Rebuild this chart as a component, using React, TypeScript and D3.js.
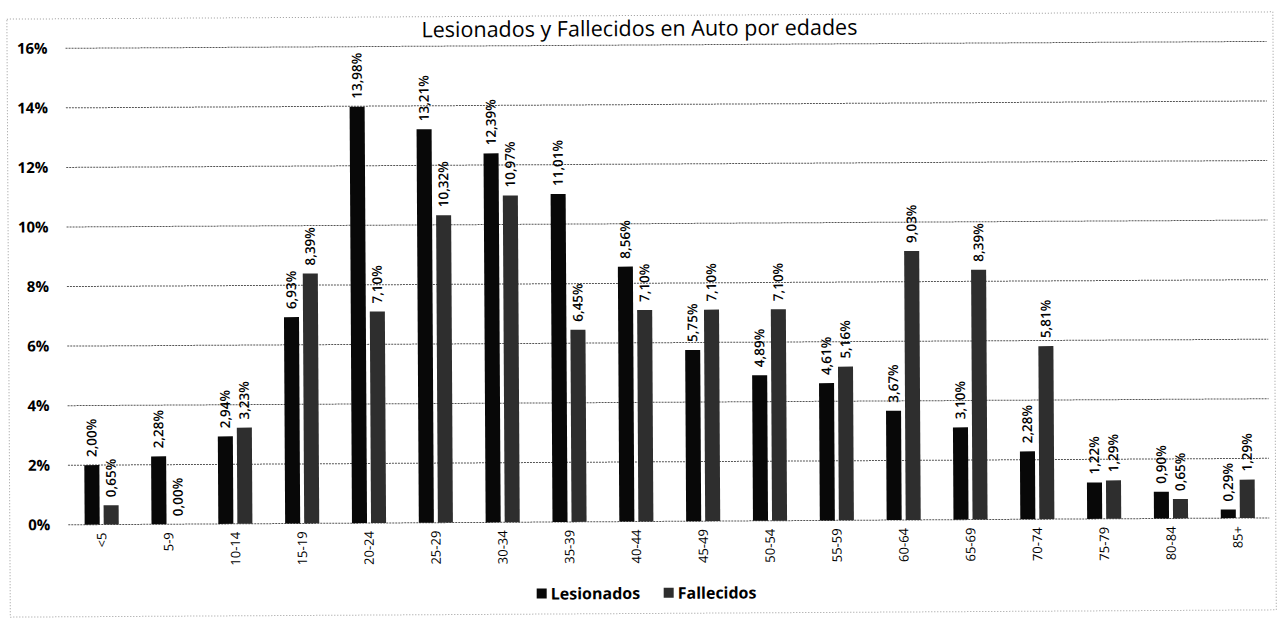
import React from "react";
import { scaleBand, scaleLinear } from "d3";

const categories = ["<5", "5-9", "10-14", "15-19", "20-24", "25-29", "30-34", "35-39", "40-44",
  "45-49", "50-54", "55-59", "60-64", "65-69", "70-74", "75-79", "80-84", "85+"];
const lesionados = [2.0, 2.28, 2.94, 6.93, 13.98, 13.21, 12.39, 11.01, 8.56,
  5.75, 4.89, 4.61, 3.67, 3.1, 2.28, 1.22, 0.9, 0.29];
const fallecidos = [0.65, 0.0, 3.23, 8.39, 7.1, 10.32, 10.97, 6.45, 7.1,
  7.1, 7.1, 5.16, 9.03, 8.39, 5.81, 1.29, 0.65, 1.29];
const seriesNames = ["Lesionados", "Fallecidos"];
const yTicks = [0, 2, 4, 6, 8, 10, 12, 14, 16];

const W = 1281;
const H = 618;
const FONT = "'Open Sans', Lato, sans-serif";
const colors = ["#080808", "#2e2e2e"];

const fmt = (v: number) => v.toFixed(2).replace(".", ",") + "%";

const App = () => {
  const x = scaleBand().domain(categories).range([67, 1270]).paddingInner(0.49).paddingOuter(0.245);
  const xs = scaleBand().domain(seriesNames).range([0, x.bandwidth()]).paddingInner(0.21);
  const y = scaleLinear().domain([0, 16]).range([521.5, 45]);
  const series = [lesionados, fallecidos];

  return (
    <div style={ {position: "fixed", left: 0, top: 0, width: W, height: H, background: "#fff"} }>
      <svg width={ W } height={ H } style={ {display: "block"} } fontFamily={ FONT }>
        <g transform="rotate(-0.33, 640, 300)">
          {/* outer frame */}
          <rect x={ 8.5 } y={ 15.5 } width={ 1266 } height={ 598 } fill="none"
                stroke="#999" strokeDasharray="1,2"/>

          {/* gridlines */}
          { yTicks.map(t => (
            <line key={ t } x1={ 67 } x2={ 1268 } y1={ y(t) } y2={ y(t) }
                  stroke="#555" strokeWidth={ 1 } strokeDasharray="2,1"/>
          )) }

          {/* y labels */}
          { yTicks.map(t => (
            <text key={ t } x={ 49 } y={ y(t) } dy="0.35em" textAnchor="end"
                  fontSize={ 15 } fontWeight="bold" fill="#000">{ t }%</text>
          )) }

          {/* title */}
          <text x={ 641 } y={ 36 } textAnchor="middle" fontSize={ 21.5 } fill="#000">
            Lesionados y Fallecidos en Auto por edades
          </text>

          {/* bars */}
          { series.map((vals, si) => (
            <g key={ si }>
              { vals.map((v, i) => {
                const bx = (x(categories[i]) || 0) + (xs(seriesNames[si]) || 0);
                return (
                  <rect key={ i } x={ bx } y={ y(v) } width={ xs.bandwidth() }
                        height={ y(0) - y(v) } fill={ colors[si] }/>
                );
              }) }
            </g>
          )) }

          {/* value labels */}
          { series.map((vals, si) => (
            <g key={ si }>
              { vals.map((v, i) => {
                const cx = (x(categories[i]) || 0) + (xs(seriesNames[si]) || 0) + xs.bandwidth() / 2;
                const ty = y(v) - 8;
                return (
                  <text key={ i } transform={ `translate(${ cx },${ ty }) rotate(-90)` } dy="0.35em"
                        textAnchor="start" fontSize={ 13.5 } fontWeight={ 600 } fill="#000">{ fmt(v) }</text>
                );
              }) }
            </g>
          )) }

          {/* x labels */}
          { categories.map(c => (
            <text key={ c } transform={ `translate(${ (x(c) || 0) + x.bandwidth() / 2 },${ y(0) + 8 }) rotate(-90)` }
                  dy="0.35em" textAnchor="end" fontSize={ 13 } fill="#000">{ c }</text>
          )) }

          {/* legend */}
          { seriesNames.map((s, i) => {
            const lx = i === 0 ? 535 : 662;
            return (
              <g key={ s } transform={ `translate(${ lx },588)` }>
                <rect x={ 0 } y={ 0 } width={ 10 } height={ 10 } fill={ colors[i] }/>
                <text x={ 14 } y={ 11 } fontSize={ 16 } fontWeight="bold" fill="#000">{ s }</text>
              </g>
            );
          }) }
        </g>
      </svg>
    </div>
  );
};

export default App;
